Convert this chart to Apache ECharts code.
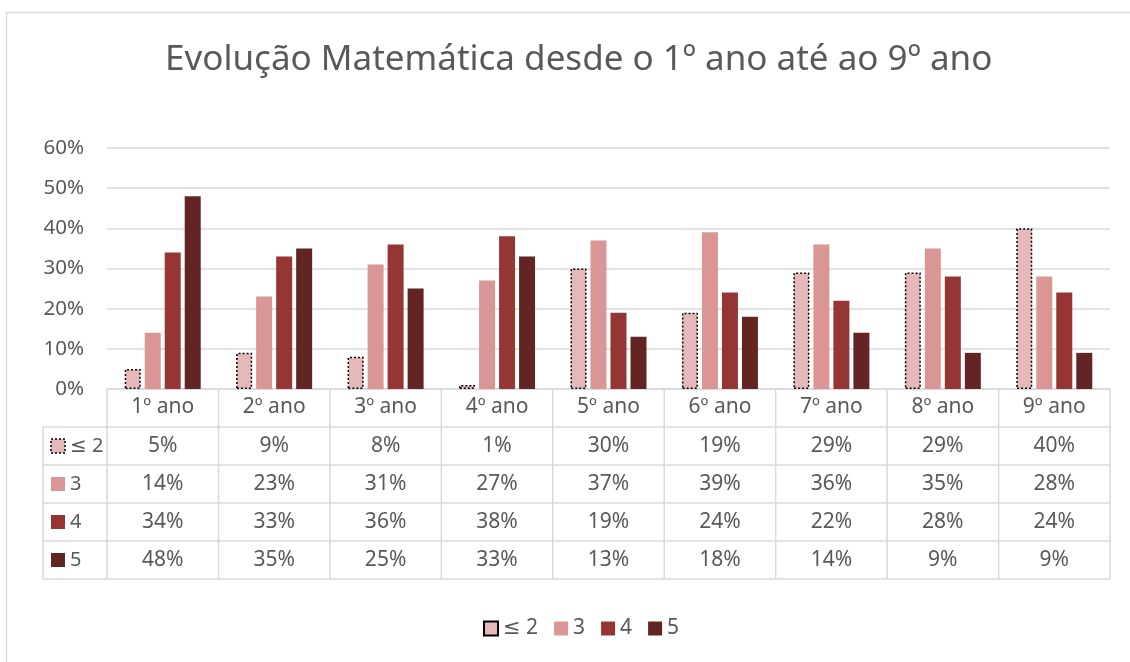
<!DOCTYPE html>
<html>
<head>
<meta charset="utf-8">
<script src="https://cdn.jsdelivr.net/npm/echarts@6/dist/echarts.min.js"></script>
<style>
  html, body { margin: 0; padding: 0; background: #fff; }
  #grafico { width: 1130px; height: 662px; }
</style>
</head>
<body>
<div id="grafico"></div>
<script>
// dados (percentagens)
var categorias = ['1º ano', '2º ano', '3º ano', '4º ano', '5º ano', '6º ano', '7º ano', '8º ano', '9º ano'];
var nivel2 = [5, 9, 8, 1, 30, 19, 29, 29, 40];
var nivel3 = [14, 23, 31, 27, 37, 39, 36, 35, 28];
var nivel4 = [34, 33, 36, 38, 19, 24, 22, 28, 24];
var nivel5 = [48, 35, 25, 33, 13, 18, 14, 9, 9];
var nomes = ['≤ 2', '3', '4', '5'];
var yMax = 60;
var yStep = 10;

var cores = ['#e6b8b7', '#da9694', '#963634', '#632523'];
var series_dados = [nivel2, nivel3, nivel4, nivel5];
var cinza = '#d9d9d9';
var texto = '#595959';
var fonte = '"Noto Sans", "DejaVu Sans", sans-serif';

var myChart = echarts.init(document.getElementById('grafico'));

var series = nomes.map(function (nome, i) {
    var estilo = { color: cores[i] };
    if (i === 0) {
        estilo.borderColor = '#000';
        estilo.borderWidth = 1.5;
        estilo.borderType = [2, 2];
    }
    return {
        name: nome,
        type: 'bar',
        barWidth: 16,
        barGap: '25%',
        itemStyle: estilo,
        data: series_dados[i]
    };
});

var option = {
    backgroundColor: '#fff',
    animation: false,
    textStyle: { fontFamily: fonte },
    title: {
        text: 'Evolução Matemática desde o 1º ano até ao 9º ano',
        left: 160,
        top: 38,
        textStyle: { fontSize: 35, fontWeight: 'normal', color: texto, fontFamily: fonte }
    },
    legend: {
        data: nomes,
        bottom: 18,
        left: 478,
        icon: 'rect',
        itemWidth: 14,
        itemHeight: 14,
        itemGap: 16,
        textStyle: { fontSize: 21, color: texto, fontFamily: fonte }
    },
    grid: {
        left: 107,
        right: 20,
        top: 148,
        bottom: 273
    },
    xAxis: {
        type: 'category',
        data: categorias,
        axisLine: { lineStyle: { color: cinza, width: 1.5 } },
        axisTick: { show: false },
        axisLabel: { fontSize: 21, color: texto, margin: 8, fontFamily: fonte }
    },
    yAxis: {
        type: 'value',
        min: 0,
        max: yMax,
        interval: yStep,
        axisLine: { show: false },
        axisTick: { show: false },
        splitLine: { lineStyle: { color: cinza, width: 1.5 } },
        axisLabel: { fontSize: 20.5, color: texto, margin: 23, formatter: '{value}%', fontFamily: fonte }
    },
    series: series
};
myChart.setOption(option);

// tabela de dados por baixo do eixo
function desenharTabela() {
    var c0 = myChart.convertToPixel({ xAxisIndex: 0 }, 0);
    var c1 = myChart.convertToPixel({ xAxisIndex: 0 }, 1);
    var colW = c1 - c0;
    var esq = c0 - colW / 2;
    var dir = esq + colW * categorias.length;
    var base = myChart.convertToPixel({ yAxisIndex: 0 }, 0);
    var rowH = 38;
    var chaveEsq = esq - 64;
    var fim = base + rowH * (nomes.length + 1);
    var g = [];

    // moldura exterior do gráfico
    g.push({ type: 'rect', shape: { x: 6.5, y: 12.5, width: 1200, height: 700 },
        style: { fill: 'none', stroke: cinza, lineWidth: 1.5 }, silent: true });

    function linha(x1, y1, x2, y2) {
        g.push({ type: 'line', shape: { x1: x1, y1: y1, x2: x2, y2: y2 },
            style: { stroke: cinza, lineWidth: 1.5 }, silent: true });
    }
    // horizontais
    for (var r = 1; r <= nomes.length + 1; r++) {
        linha(chaveEsq, base + r * rowH, dir, base + r * rowH);
    }
    // verticais
    linha(chaveEsq, base + rowH, chaveEsq, fim);
    for (var k = 0; k <= categorias.length; k++) {
        linha(esq + k * colW, base, esq + k * colW, fim);
    }
    // linhas de valores
    nomes.forEach(function (nome, i) {
        var yc = base + rowH * (i + 1.5);
        var chave = { type: 'rect', shape: { x: chaveEsq + 8, y: yc - 7, width: 14, height: 14 },
            style: { fill: cores[i] }, silent: true };
        if (i === 0) {
            chave.style.stroke = '#000';
            chave.style.lineWidth = 1.5;
            chave.style.lineDash = [2, 2];
        }
        g.push(chave);
        g.push({ type: 'text', x: chaveEsq + 27, y: yc, silent: true,
            style: { text: nome, fontSize: 20, fill: texto, fontFamily: fonte, verticalAlign: 'middle', align: 'left' } });
        series_dados[i].forEach(function (v, j) {
            g.push({ type: 'text', x: esq + colW * (j + 0.5), y: yc, silent: true,
                style: { text: v + '%', fontSize: 21, fill: texto, fontFamily: fonte, verticalAlign: 'middle', align: 'center' } });
        });
    });
    myChart.setOption({ graphic: g });
}
desenharTabela();
</script>
</body>
</html>
